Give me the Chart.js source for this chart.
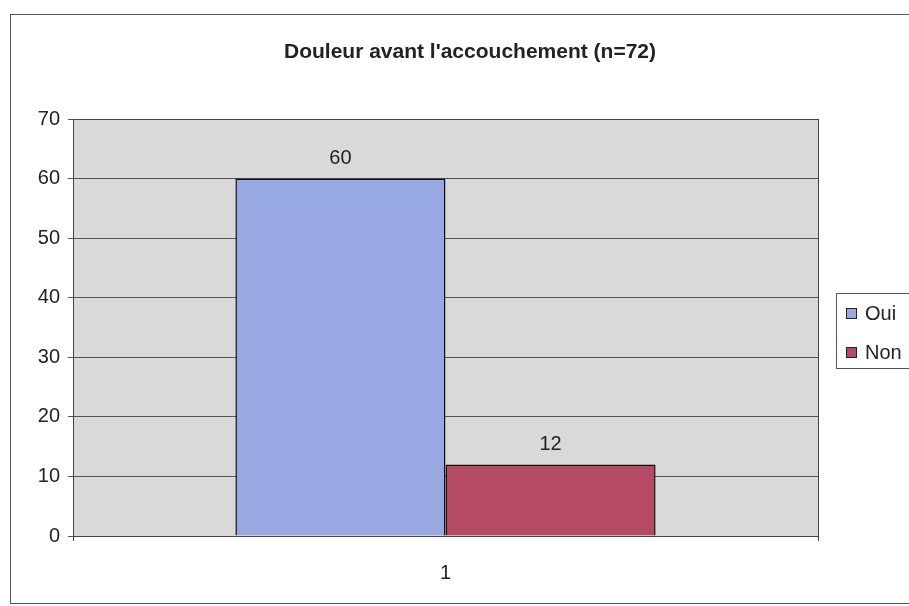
<!DOCTYPE html>
<html>
<head>
<meta charset="utf-8">
<script src="https://cdn.jsdelivr.net/npm/chart.js@4"></script>
<style>
  html, body { margin: 0; padding: 0; background: #fff; }
  #wrap { width: 909px; height: 606px; }
</style>
</head>
<body>
<div id="wrap"><canvas id="chart" width="909" height="606"></canvas></div>
<script>
const titleText = "Douleur avant l'accouchement (n=72)";
const categories = ['1'];
const seriesNames = ['Oui', 'Non'];
const ouiValues = [60];
const nonValues = [12];
const yTicks = [0, 10, 20, 30, 40, 50, 60, 70];

const colors = ['#98a8e2', '#b54a64'];
const FONT = "'Liberation Sans', Arial, sans-serif";

// frame, plot background, title, value labels and legend box
const excelLook = {
    id: 'excelLook',
    beforeDraw(chart) {
        const ctx = chart.ctx;
        const a = chart.chartArea;
        ctx.save();
        ctx.fillStyle = '#fff';
        ctx.fillRect(0, 0, chart.width, chart.height);
        ctx.strokeStyle = '#555';
        ctx.lineWidth = 1;
        ctx.strokeRect(10.5, 14.5, 920, 589);
        ctx.fillStyle = '#d9d9d9';
        ctx.fillRect(a.left, a.top, a.right - a.left, a.bottom - a.top);
        ctx.restore();
    },
    afterDatasetsDraw(chart) {
        const ctx = chart.ctx;
        const a = chart.chartArea;
        ctx.save();
        ctx.strokeStyle = '#444';
        ctx.lineWidth = 1;
        ctx.strokeRect(a.left + 0.5, a.top + 0.5, a.right - a.left, a.bottom - a.top);

        // title
        ctx.fillStyle = '#222';
        ctx.font = 'bold 21px ' + FONT;
        ctx.textAlign = 'center';
        ctx.textBaseline = 'middle';
        ctx.fillText(titleText, 470, 52);

        // values above bars
        ctx.font = '20px ' + FONT;
        ctx.textBaseline = 'bottom';
        chart.data.datasets.forEach((ds, i) => {
            chart.getDatasetMeta(i).data.forEach((bar, j) => {
                ctx.fillText(String(ds.data[j]), bar.x, bar.y - 10);
            });
        });

        // legend
        ctx.strokeStyle = '#555';
        ctx.strokeRect(836.5, 293.5, 100, 75);
        ctx.font = '20px ' + FONT;
        ctx.textAlign = 'left';
        ctx.textBaseline = 'middle';
        chart.data.datasets.forEach((ds, i) => {
            const cy = 313 + i * 39;
            ctx.fillStyle = ds.backgroundColor;
            ctx.fillRect(846, cy - 5, 11, 11);
            ctx.strokeStyle = '#222';
            ctx.lineWidth = 1;
            ctx.strokeRect(846.5, cy - 4.5, 10, 10);
            ctx.fillStyle = '#222';
            ctx.fillText(ds.label, 865, cy + 1);
        });
        ctx.restore();
    }
};

new Chart(document.getElementById('chart').getContext('2d'), {
    type: 'bar',
    data: {
        labels: categories,
        datasets: [
            {
                label: seriesNames[0],
                data: ouiValues,
                backgroundColor: colors[0],
                borderColor: '#111',
                borderWidth: 1.5,
                barPercentage: 1,
                categoryPercentage: 0.564
            },
            {
                label: seriesNames[1],
                data: nonValues,
                backgroundColor: colors[1],
                borderColor: '#111',
                borderWidth: 1.5,
                barPercentage: 1,
                categoryPercentage: 0.564
            }
        ]
    },
    options: {
        responsive: false,
        animation: false,
        layout: { padding: { top: 119, right: 91, left: 0, bottom: 0 } },
        plugins: {
            legend: { display: false },
            title: { display: false },
            tooltip: { enabled: false }
        },
        scales: {
            x: {
                grid: { drawOnChartArea: false, drawTicks: true, tickLength: 5, color: '#444' },
                border: { color: '#444' },
                ticks: { color: '#222', font: { family: FONT, size: 20 }, padding: 20 },
                afterFit(scale) { scale.height = 70; }
            },
            y: {
                min: 0,
                max: 70,
                afterBuildTicks(scale) { scale.ticks = yTicks.map(v => ({ value: v })); },
                grid: { color: '#555', lineWidth: 1, tickLength: 5, drawTicks: true },
                border: { color: '#444' },
                ticks: { color: '#222', font: { family: FONT, size: 20 }, padding: 8 },
                afterFit(scale) { scale.width = 73; }
            }
        }
    },
    plugins: [excelLook]
});
</script>
</body>
</html>
